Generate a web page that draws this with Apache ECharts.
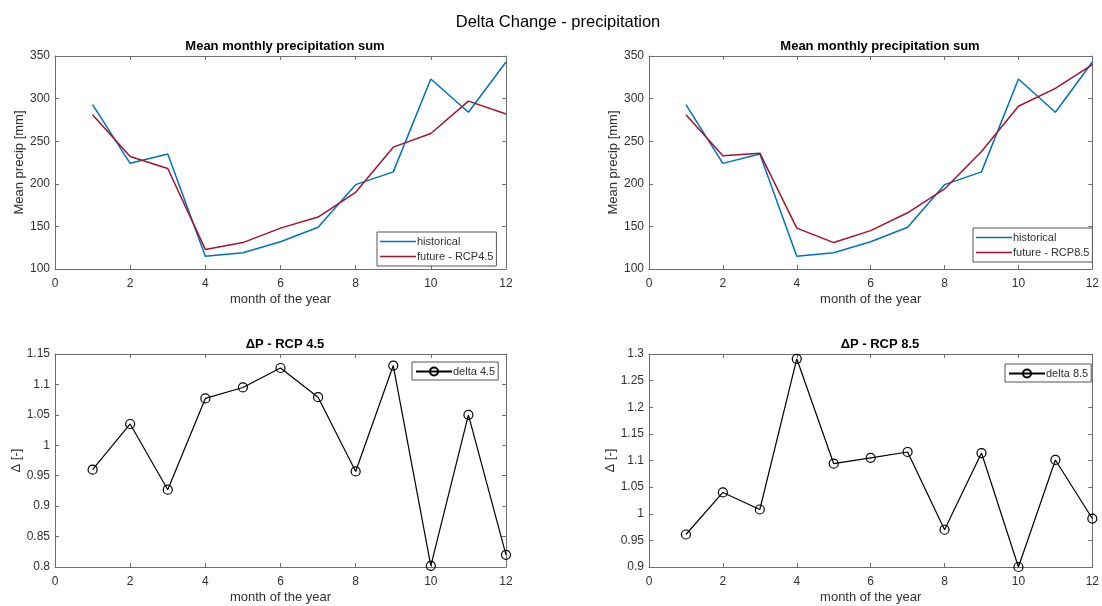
<!DOCTYPE html>
<html>
<head>
<meta charset="utf-8">
<script src="https://cdn.jsdelivr.net/npm/echarts@6/dist/echarts.min.js"></script>
<style>
html,body{margin:0;padding:0;background:#fff;}
#chart{width:1102px;height:606px;}
</style>
</head>
<body>
<div id="chart"></div>
<script>
// ---- data ----
const months = [1,2,3,4,5,6,7,8,9,10,11,12];
const historical = [293, 224, 235, 115, 119, 132, 149, 199, 214, 323, 284, 343];
const futureRCP45 = [281, 232, 218, 123, 131, 148, 161, 190, 243, 259, 297, 282];
const futureRCP85 = [281, 233, 236, 148, 131, 145, 166, 194, 238, 291, 312, 340];
const delta45 = [0.960, 1.035, 0.927, 1.077, 1.095, 1.127, 1.079, 0.957, 1.131, 0.802, 1.050, 0.820];
const delta85 = [0.961, 1.040, 1.008, 1.291, 1.094, 1.105, 1.116, 0.970, 1.114, 0.900, 1.101, 0.991];
const xTicks = {min: 0, max: 12, interval: 2};
const yPrecip = {min: 100, max: 350, interval: 50};
const yDelta45 = {min: 0.8, max: 1.15, interval: 0.05};
const yDelta85 = {min: 0.9, max: 1.3, interval: 0.05};

const FONT = '"Liberation Sans", Arial, Helvetica, sans-serif';
const AX = '#6e6e6e';
const TXT = '#303030';
const BLUE = '#0072BD';
const RED = '#A2142F';

const pairs = (vals) => months.map((m, i) => [m, vals[i]]);

const grids = [
  {left: 55, top: 56, width: 451, height: 213},
  {left: 649, top: 56, width: 452, height: 213},
  {left: 55, top: 354, width: 451, height: 213},
  {left: 649, top: 354, width: 452, height: 213}
];

const xAxes = [], yAxes = [];
function fmtDelta(v){ return String(+v.toFixed(2)); }
grids.forEach((g, gi) => {
  const yr = gi < 2 ? yPrecip : (gi === 2 ? yDelta45 : yDelta85);
  xAxes.push({
    type: 'value', gridIndex: gi, position: 'bottom', min: xTicks.min, max: xTicks.max, interval: xTicks.interval,
    name: 'month of the year', nameLocation: 'middle', nameGap: 24,
    nameTextStyle: {fontFamily: FONT, fontSize: 13, color: TXT},
    axisLine: {show: true, onZero: false, lineStyle: {color: AX, width: 1}},
    axisTick: {show: true, inside: true, length: 4, lineStyle: {color: AX}},
    axisLabel: {fontFamily: FONT, fontSize: 12, color: TXT, margin: 9},
    splitLine: {show: false}
  });
  xAxes.push({
    type: 'value', gridIndex: gi, position: 'top', min: xTicks.min, max: xTicks.max, interval: xTicks.interval,
    axisLine: {show: true, onZero: false, lineStyle: {color: AX, width: 1}},
    axisTick: {show: true, inside: true, length: 4, lineStyle: {color: AX}},
    axisLabel: {show: false}, splitLine: {show: false}
  });
  yAxes.push({
    type: 'value', gridIndex: gi, position: 'left', min: yr.min, max: yr.max, interval: yr.interval,
    name: gi < 2 ? 'Mean precip [mm]' : 'Δ [-]', nameLocation: 'middle', nameRotate: 90,
    nameGap: gi < 2 ? 25 : 24,
    nameTextStyle: {fontFamily: FONT, fontSize: 13, color: TXT},
    axisLine: {show: true, onZero: false, lineStyle: {color: AX, width: 1}},
    axisTick: {show: true, inside: true, length: 4, lineStyle: {color: AX}},
    axisLabel: {fontFamily: FONT, fontSize: 12, color: TXT, margin: 5,
      formatter: gi < 2 ? null : fmtDelta},
    splitLine: {show: false}
  });
  yAxes.push({
    type: 'value', gridIndex: gi, position: 'right', min: yr.min, max: yr.max, interval: yr.interval,
    axisLine: {show: true, onZero: false, lineStyle: {color: AX, width: 1}},
    axisTick: {show: true, inside: true, length: 4, lineStyle: {color: AX}},
    axisLabel: {show: false}, splitLine: {show: false}
  });
});

const titleStyle = {fontFamily: FONT, fontSize: 13, fontWeight: 'bold', color: '#000'};
const titles = [
  {text: 'Delta Change - precipitation', left: 553, top: 9, textAlign: 'center',
   textStyle: {fontFamily: FONT, fontSize: 16.5, fontWeight: 'normal', color: '#000'}},
  {text: 'Mean monthly precipitation sum', left: 280, top: 35, textAlign: 'center', textStyle: titleStyle},
  {text: 'Mean monthly precipitation sum', left: 875, top: 35, textAlign: 'center', textStyle: titleStyle},
  {text: 'ΔP - RCP 4.5', left: 280, top: 333, textAlign: 'center', textStyle: titleStyle},
  {text: 'ΔP - RCP 8.5', left: 875, top: 333, textAlign: 'center', textStyle: titleStyle}
];

function legend(data, left, top, lineOnly){
  return {
    data: data.map(n => lineOnly ? {name: n, icon: 'rect'} : {name: n}),
    left: left, top: top, orient: 'vertical',
    itemWidth: 36, itemHeight: lineOnly ? 1.6 : 10, itemGap: 2,
    padding: lineOnly ? [3, 3, 3, 3] : [3, 3, 2, 3],
    borderColor: '#555', borderWidth: 1, backgroundColor: '#fff',
    textStyle: {fontFamily: FONT, fontSize: 11, color: TXT, padding: [0, 0, 0, -4], lineHeight: 13},
    selectedMode: false
  };
}

const lineSeries = (name, vals, color, xi, yi) => ({
  name: name, type: 'line', xAxisIndex: xi, yAxisIndex: yi, data: pairs(vals),
  symbol: 'none', lineStyle: {color: color, width: 1.5}, itemStyle: {color: color},
  animation: false, silent: true
});
const deltaSeries = (name, vals, xi, yi) => ({
  name: name, type: 'line', xAxisIndex: xi, yAxisIndex: yi, data: pairs(vals),
  symbol: 'circle', symbolSize: 9, showAllSymbol: true, clip: false,
  lineStyle: {color: '#000', width: 1.2},
  itemStyle: {color: 'rgba(255,255,255,0)', borderColor: '#000', borderWidth: 1.2},
  animation: false, silent: true
});

const option = {
  backgroundColor: '#fff',
  animation: false,
  title: titles,
  grid: grids,
  xAxis: xAxes,
  yAxis: yAxes,
  legend: [
    legend(['historical', 'future - RCP4.5'], 377, 232, true),
    legend(['historical ', 'future - RCP8.5'], 973, 228, true),
    legend(['delta 4.5'], 412, 362, false),
    legend(['delta 8.5'], 1005, 364, false)
  ],
  series: [
    lineSeries('historical', historical, BLUE, 0, 0),
    lineSeries('future - RCP4.5', futureRCP45, RED, 0, 0),
    lineSeries('historical ', historical, BLUE, 2, 2),
    lineSeries('future - RCP8.5', futureRCP85, RED, 2, 2),
    deltaSeries('delta 4.5', delta45, 4, 4),
    deltaSeries('delta 8.5', delta85, 6, 6)
  ]
};

const chart = echarts.init(document.getElementById('chart'), null, {renderer: 'canvas'});
chart.setOption(option);
</script>
</body>
</html>
